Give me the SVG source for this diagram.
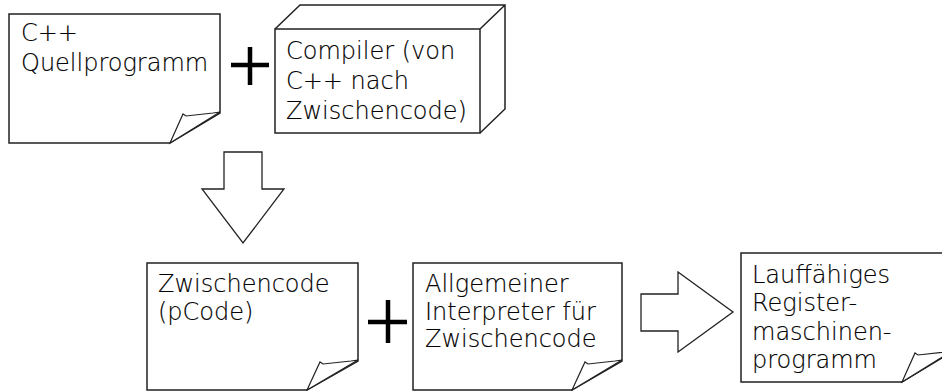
<svg xmlns="http://www.w3.org/2000/svg" width="942" height="391" viewBox="0 0 942 391">
  <style>
    .doc { fill: #fff; stroke: #222; stroke-width: 1.5; stroke-linejoin: miter; }
    .fold { fill: #fff; stroke: #222; stroke-width: 1.2; stroke-linejoin: miter; }
    .box { fill: #fff; stroke: #222; stroke-width: 1.5; }
    .arrow { fill: #fff; stroke: #222; stroke-width: 1.3; }
    .plus { stroke: #000; stroke-width: 4.5; fill: none; }
    text { font-family: "DejaVu Sans", "Liberation Sans", sans-serif; font-weight: 200; font-size: 24px; fill: #000; stroke: #000; stroke-width: 0.15; }
  </style>
  <rect width="942" height="391" fill="#fff"/>

  <!-- source document -->
  <g id="quellprogramm">
    <path class="doc" d="M9,14 H220 V113 L170,143 H9 Z"/>
    <path class="fold" d="M170,143 L183,114 L186,116 L213,113 L220,112 Z"/>
    <text x="21" y="41">C++</text>
    <text x="21" y="71">Quellprogramm</text>
  </g>

  <!-- compiler (box) -->
  <g id="compiler">
    <path class="box" d="M275,29 L300,5 H505 V109 L480,133 M480,29 L505,5"/>
    <rect class="box" x="275" y="29" width="205" height="104"/>
    <text x="286" y="59">Compiler (von</text>
    <text x="286" y="89">C++ nach</text>
    <text x="286" y="119">Zwischencode)</text>
  </g>

  <!-- intermediate code -->
  <g id="zwischencode">
    <path class="doc" d="M147,263 H358 V361 L307,390 H147 Z"/>
    <path class="fold" d="M307,390 L320,362 L323,364 L351,361 L358,360 Z"/>
    <text x="158" y="292">Zwischencode</text>
    <text x="158" y="320">(pCode)</text>
  </g>

  <!-- interpreter -->
  <g id="interpreter">
    <path class="doc" d="M413,263 H622 V361 L572,390 H413 Z"/>
    <path class="fold" d="M572,390 L585,362 L588,364 L615,361 L622,360 Z"/>
    <text x="425" y="292">Allgemeiner</text>
    <text x="425" y="320">Interpreter für</text>
    <text x="425" y="347">Zwischencode</text>
  </g>

  <!-- executable program -->
  <g id="programm">
    <path class="doc" d="M741,253 H952 V352 L902,382 H741 Z"/>
    <path class="fold" d="M902,382 L915,353 L918,355 L945,352 L952,351 Z"/>
    <text x="752" y="283">Lauffähiges</text>
    <text x="752" y="311">Register-</text>
    <text x="752" y="340">maschinen-</text>
    <text x="752" y="368">programm</text>
  </g>

  <!-- connectors: plus signs and block arrows -->
  <g id="connectors">
    <path class="plus" d="M250,47 V85 M231,65 H269"/>
    <path class="plus" d="M388,300 V343 M368,322 H407"/>
    <path class="arrow" d="M224,152 H262 V189 H284 L243,243 L202,189 H224 Z"/>
    <path class="arrow" d="M641,294 H678 V272 L733,312 L678,352 V331 H641 Z"/>
  </g>
</svg>
